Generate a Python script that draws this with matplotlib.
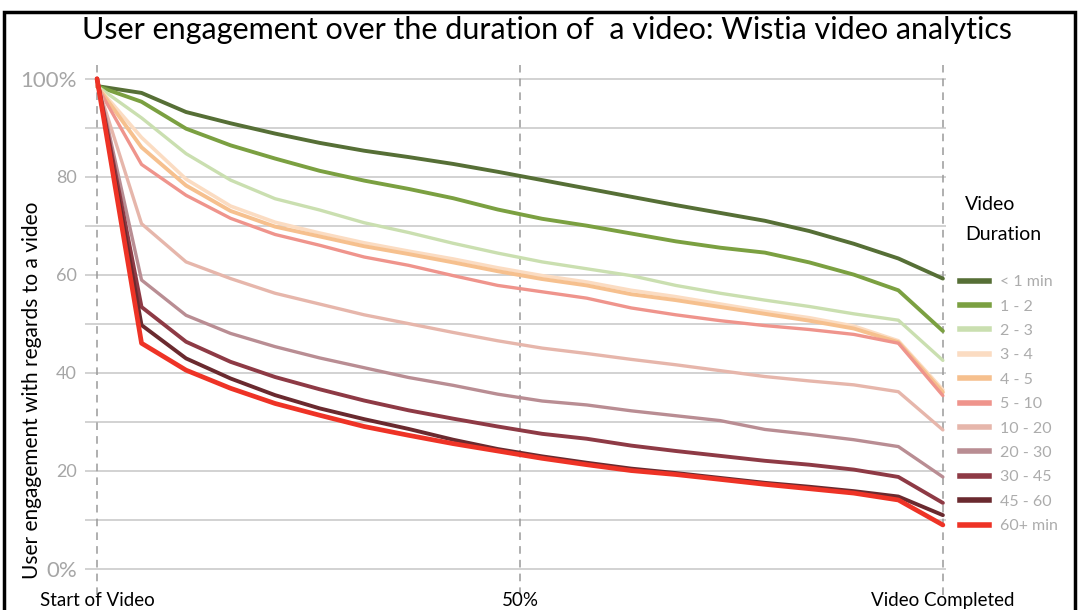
import matplotlib
matplotlib.use("Agg")
import matplotlib.pyplot as plt
from matplotlib.patches import Rectangle
from matplotlib.lines import Line2D
import numpy as np

# ---------------- data ----------------
durations = ["< 1 min", "1 - 2", "2 - 3", "3 - 4", "4 - 5", "5 - 10",
             "10 - 20", "20 - 30", "30 - 45", "45 - 60", "60+ min"]
colors = ["#566f36", "#7ba041", "#cadfb0", "#fbdcc2", "#f6c08e", "#ef948c",
          "#e6b6ab", "#b98d93", "#8e3a45", "#6a2a2f", "#ee3326"]
widths = [2.8, 2.8, 2.4, 2.6, 2.8, 2.4, 2.4, 2.4, 2.8, 2.8, 3.4]

# 20 equally spaced samples from start (0) to completion (19)
progress_steps = list(range(20))

eng_lt1 = [98.5, 97.1, 93.2, 90.9, 88.8, 86.9, 85.3, 84.0, 82.6, 81.0, 79.3, 77.6, 75.9, 74.2, 72.6, 71.0, 68.9, 66.3, 63.3, 59.2]
eng_1_2 = [98.5, 95.3, 89.8, 86.4, 83.7, 81.2, 79.2, 77.5, 75.6, 73.3, 71.4, 70.0, 68.4, 66.8, 65.5, 64.5, 62.5, 60.0, 56.8, 48.5]
eng_2_3 = [98.5, 92.0, 84.7, 79.3, 75.5, 73.2, 70.6, 68.6, 66.4, 64.4, 62.6, 61.2, 59.8, 57.8, 56.2, 54.8, 53.5, 52.0, 50.7, 42.5]
eng_3_4 = [98.5, 88.0, 79.5, 74.0, 70.7, 68.5, 66.5, 64.8, 63.2, 61.4, 59.8, 58.5, 56.8, 55.5, 54.0, 52.5, 51.2, 49.5, 46.5, 36.5]
eng_4_5 = [98.5, 86.0, 78.2, 73.0, 69.8, 67.8, 65.8, 64.2, 62.5, 60.7, 59.1, 57.8, 56.0, 54.8, 53.4, 52.0, 50.6, 49.0, 46.2, 36.0]
eng_5_10 = [98.5, 82.5, 76.2, 71.5, 68.2, 66.0, 63.6, 61.9, 59.8, 57.8, 56.5, 55.2, 53.2, 51.8, 50.6, 49.6, 48.8, 47.8, 46.0, 35.3]
eng_10_20 = [99.0, 70.4, 62.6, 59.2, 56.2, 54.0, 51.8, 50.0, 48.2, 46.5, 45.0, 43.9, 42.7, 41.6, 40.4, 39.2, 38.3, 37.5, 36.1, 28.3]
eng_20_30 = [100.0, 58.9, 51.7, 48.0, 45.3, 43.0, 41.0, 39.0, 37.4, 35.6, 34.2, 33.4, 32.2, 31.2, 30.2, 28.4, 27.4, 26.3, 24.9, 18.7]
eng_30_45 = [100.0, 53.4, 46.3, 42.2, 39.1, 36.6, 34.3, 32.3, 30.6, 29.0, 27.5, 26.5, 25.1, 24.0, 23.0, 22.0, 21.2, 20.2, 18.7, 13.4]
eng_45_60 = [100.0, 49.7, 42.9, 38.8, 35.4, 32.7, 30.5, 28.5, 26.3, 24.4, 22.9, 21.6, 20.4, 19.5, 18.5, 17.5, 16.7, 15.8, 14.7, 10.9]
eng_60p = [100.0, 46.0, 40.5, 36.8, 33.7, 31.3, 29.0, 27.2, 25.5, 24.0, 22.5, 21.2, 20.0, 19.2, 18.2, 17.2, 16.3, 15.4, 14.0, 8.9]

series = [eng_lt1, eng_1_2, eng_2_3, eng_3_4, eng_4_5, eng_5_10,
          eng_10_20, eng_20_30, eng_30_45, eng_45_60, eng_60p]

y_ticks = [0, 20, 40, 60, 80, 100]
y_tick_labels = ["0%", "20", "40", "60", "80", "100%"]
x_ticks = [0, 9.5, 19]
x_tick_labels = ["Start of Video", "50%", "Video Completed"]

# ---------------- figure ----------------
W, H = 1080, 610
fig = plt.figure(figsize=(W / 100, H / 100), dpi=100)
fig.patch.set_facecolor("white")

def fx(px):
    return px / W

def fy(py):
    return 1 - py / H

ax_left, ax_right, ax_top, ax_bottom = 85, 946, 65, 595
ax = fig.add_axes([fx(ax_left), fy(ax_bottom), fx(ax_right - ax_left),
                   (ax_bottom - ax_top) / H])
ax.set_xlim(-0.27, 19.07)
ax.set_ylim(-5.4, 102.8)

for s in ax.spines.values():
    s.set_visible(False)

# horizontal gridlines
for g in range(0, 101, 10):
    ax.axhline(g, color="#d2d2d2", lw=1.4, zorder=1)

# vertical dashed lines
for xv in x_ticks:
    ax.axvline(xv, color="#9a9a9a", lw=1.1, ls=(0, (5, 4)), zorder=1)

for vals, c, lw, lab in zip(series, colors, widths, durations):
    ax.plot(progress_steps, vals, color=c, lw=lw, label=lab,
            solid_joinstyle="round", solid_capstyle="round", zorder=3,
            clip_on=False)

ax.set_yticks(y_ticks)
ax.set_yticklabels(y_tick_labels)
ax.tick_params(axis="y", length=0, pad=6)
for t, lab in zip(ax.get_yticklabels(), y_tick_labels):
    t.set_fontfamily(["Lato", "DejaVu Sans"])
    t.set_fontweight("normal")
    t.set_fontsize(16 if "%" in lab else 13)
    t.set_color("#a6a6a6")

ax.set_xticks(x_ticks)
ax.set_xticklabels(x_tick_labels, fontsize=13.5, family=["Lato", "DejaVu Sans"],
                   color="black")
ax.tick_params(axis="x", length=0, pad=-2)

ax.set_ylabel("User engagement with regards to a video", fontsize=15,
              family=["Lato", "DejaVu Sans"], color="black")
ax.yaxis.set_label_coords((42 - ax_left) / (ax_right - ax_left),
                          (ax_bottom - 390) / (ax_bottom - ax_top))

# title
fig.text(fx(547), fy(30), "User engagement over the duration of  a video: Wistia video analytics",
         ha="center", va="center", fontsize=22, family=["Lato", "DejaVu Sans"],
         color="black")

# legend title
fig.text(fx(965), fy(205), "Video", ha="left", va="center", fontsize=14,
         family=["Lato", "DejaVu Sans"], color="black")
fig.text(fx(965), fy(234), "Duration", ha="left", va="center", fontsize=14,
         family=["Lato", "DejaVu Sans"], color="black")

handles = [Line2D([0], [0], color=c, lw=4) for c in colors]
leg = fig.legend(handles, durations, loc="upper left",
                 bbox_to_anchor=(fx(960), fy(275)), frameon=False,
                 borderpad=0, borderaxespad=0, handlelength=1.8,
                 handletextpad=0.7, labelspacing=0.64,
                 prop={"family": ["Lato", "DejaVu Sans"], "size": 11.5},
                 labelcolor="#acacac")

# outer border
fig.patches.append(Rectangle((fx(4), -0.02), fx(1071), fy(12) + 0.02,
                             transform=fig.transFigure, fill=False,
                             edgecolor="black", lw=2.5, zorder=10))

fig.savefig("out.png", dpi=100, facecolor="white")
